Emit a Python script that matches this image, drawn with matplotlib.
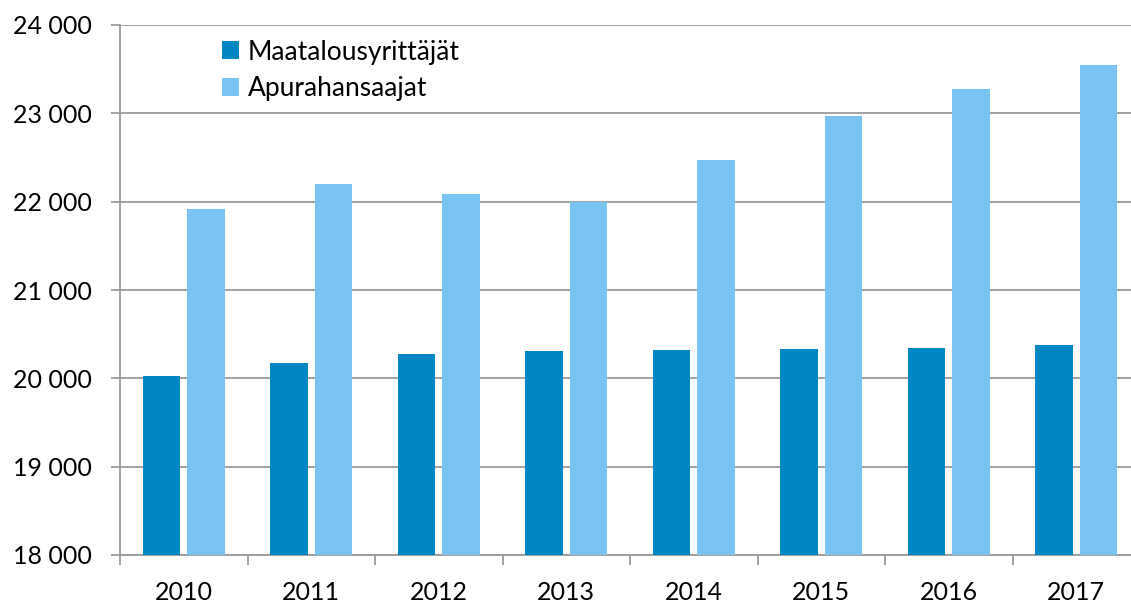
import matplotlib
matplotlib.use("Agg")
import matplotlib.pyplot as plt
import numpy as np
from matplotlib.ticker import FuncFormatter, FixedLocator

years = ["2010", "2011", "2012", "2013", "2014", "2015", "2016", "2017"]
maatalous = [20030, 20170, 20275, 20310, 20320, 20330, 20345, 20380]
apuraha = [21920, 22200, 22085, 22000, 22470, 22970, 23275, 23550]
series_names = ["Maatalousyrittäjät", "Apurahansaajat"]

plt.rcParams['font.family'] = ['Lato', 'DejaVu Sans']

W, H = 1131, 604
fig = plt.figure(figsize=(W / 100, H / 100), dpi=100)
ax = fig.add_axes([120 / W, 49 / H, 1020 / W, 530 / H])

x = np.arange(len(years))
bw = 0.293
off = 0.175
ax.bar(x - off, maatalous, bw, color="#0086C3", zorder=3, label=series_names[0])
ax.bar(x + off, apuraha, bw, color="#79C3F0", zorder=3, label=series_names[1])

ax.set_xlim(-0.5, len(years) - 0.5)
ax.set_ylim(18000, 24000)
ax.set_yticks(np.arange(18000, 24001, 1000))
ax.yaxis.set_major_formatter(FuncFormatter(lambda v, p: f"{int(v):,}".replace(",", " ")))
ax.grid(axis="y", color="#9a9a9a", linewidth=1.3, zorder=0)

ax.set_xticks(x)
ax.set_xticklabels(years)
ax.xaxis.set_minor_locator(FixedLocator(np.arange(-0.5, len(years), 1.0)))
ax.tick_params(axis="x", which="major", length=0, pad=19, labelsize=18)
ax.tick_params(axis="x", which="minor", length=7, width=1.3, color="#9a9a9a")
ax.tick_params(axis="y", length=6.5, width=1.3, color="#9a9a9a", pad=14, labelsize=18)

for s in ["top", "right"]:
    ax.spines[s].set_visible(False)
for s in ["left", "bottom"]:
    ax.spines[s].set_color("#9a9a9a")
    ax.spines[s].set_linewidth(1.3)

leg = ax.legend(loc="upper left", bbox_to_anchor=(91 / 1020, 1 - 4 / 530), frameon=False,
                fontsize=19, handlelength=0.65, handleheight=0.65, handletextpad=0.35,
                labelspacing=0.45, borderaxespad=0)

fig.savefig("out.png", dpi=100)
